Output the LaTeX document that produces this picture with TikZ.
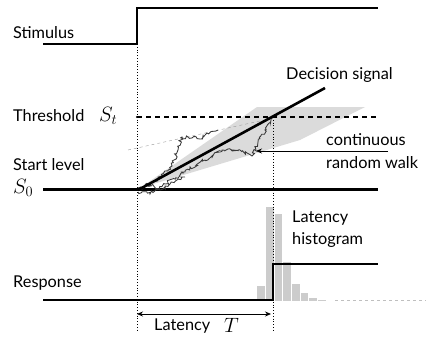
\documentclass[tikz,border=0pt]{standalone}
\usepackage{fontspec}
\setmainfont{Lato}
\usetikzlibrary{arrows.meta,decorations.pathmorphing}
\begin{document}
\begin{tikzpicture}[x=1pt,y=-1pt,
  level/.style={line width=2pt,line cap=butt},
  guide/.style={dotted,line width=0.8pt},
  lbl/.style={font=\fontsize{16.3}{19}\selectfont,inner sep=0pt,anchor=west},
  sym/.style={font=\fontsize{20}{22}\selectfont,inner sep=0pt,anchor=west},
  walk/.style={draw=black!78,line width=0.85pt,
    decorate,decoration={random steps,segment length=1.8pt,amplitude=1.8pt}},
  bar/.style={fill=black!20,draw=white,line width=0.5pt},
  tip/.style={-{Stealth[length=6pt,width=5pt]}}]
\useasboundingbox (0,0) rectangle (426,338);

% key points
\coordinate (onset) at (137,189);
\coordinate (cross) at (273,117);

% spread of the accumulating signal
\fill[black!14] (140,188) -- (257,107) -- (365,107) -- (300,140) -- cycle;
\draw[black!40,dashed,line width=0.4pt] (128,150) -- (278,117);

% latency histogram
\foreach \x/\t in {256.5/285,265.2/206,273.9/213,282.6/261,291.3/283,300/292,308.7/297,317.4/299,326.1/300}
  \draw[bar] (\x,301) rectangle ++(8.7,\t-301);
\draw[black!25,dashed,line width=0.6pt] (335,300.5) -- (426,300.5);

% guides
\draw[guide] (onset |- 0,44) -- (onset |- 0,330);
\draw[guide] (cross) -- (cross |- 0,330);

% stimulus
\draw[level] (43,44) -- (137,44) -- (137,8) -- (378,8);
\node[lbl] (stim) at (13,33) {Stimulus};

% threshold
\draw[dashed,line width=1.2pt,dash pattern=on 5pt off 4pt] (137,117) -- (378,117);
\fill (137,117) circle (1.2pt);
\node[lbl] (thr) at (13,116) {Threshold};
\node[sym] (st) at (99,116) {$S_t$};

% start level
\draw[level,line width=2.4pt] (43,189.5) -- (378,189.5);
\node[lbl] (start) at (13,165) {Start level};
\node[sym] (s0) at (13,188) {$S_0$};

% random walks
\pgfmathsetseed{7}
\draw[walk] (138,190) -- (150,185) -- (162,176) -- (172,166) -- (178,150) -- (182,137) -- (192,138) -- (200,139) -- (207,133) -- (218,130);
\pgfmathsetseed{21}
\draw[walk] (138,192) -- (150,194) -- (165,184) -- (185,172) -- (205,160) -- (222,150) -- (238,150) -- (252,156) -- (258,142) -- (265,130) -- (273,118);
\pgfmathsetseed{5}
\draw[walk] (138,188) -- (148,184) -- (160,190) -- (170,184) -- (185,177);

% decision signal
\draw[line width=2.6pt] (138,190) -- (325,88);
\node[lbl] (dec) at (286,75) {Decision signal};

% random walk label
\node[lbl] (cont) at (326,140) {continuous};
\node[lbl] (rw) at (326,163) {random walk};
\draw[tip,line width=0.8pt] (388,151) -- (256,151);

% response
\draw[level] (43,300) -- (273,300) -- (273,264) -- (378,264);
\node[lbl] (resp) at (13,283) {Response};

% histogram label
\node[lbl] (lat) at (292,218) {Latency};
\node[lbl] (hist) at (292,240) {histogram};

% latency span
\draw[{Stealth[length=6pt,width=5pt]}-{Stealth[length=6pt,width=5pt]},line width=0.8pt] (137,314) -- (271,314);
\node[lbl] (latT) at (154,326) {Latency};
\node[sym] (T) at (224,325) {$T$};
\end{tikzpicture}
\end{document}
